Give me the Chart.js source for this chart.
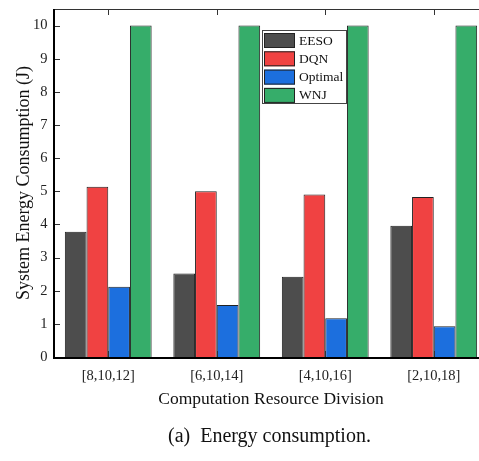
<!DOCTYPE html>
<html>
<head>
<meta charset="utf-8">
<script src="https://cdn.jsdelivr.net/npm/chart.js@4/dist/chart.umd.min.js"></script>
<style>
  html, body { margin: 0; padding: 0; background: #fff; overflow: hidden; width: 479px; height: 461px; }
  #wrap { position: relative; width: 488px; height: 461px; }
  #caption { position: absolute; left: 168px; top: 424px; font-family: "Liberation Serif", serif; font-size: 20px; color: #111; white-space: pre; }
</style>
</head>
<body>
<div id="wrap">
  <canvas id="c" width="488" height="461"></canvas>
  <div id="caption">(a)  Energy consumption.</div>
</div>
<script>
// valores
var categories = ["[8,10,12]", "[6,10,14]", "[4,10,16]", "[2,10,18]"];
var seriesNames = ["EESO", "DQN", "Optimal", "WNJ"];
var eeso = [3.78, 2.52, 2.42, 3.96];
var dqn = [5.14, 5.00, 4.90, 4.83];
var optimal = [2.12, 1.57, 1.17, 0.93];
var wnj = [10, 10, 10, 10];
var yTicks = [0, 1, 2, 3, 4, 5, 6, 7, 8, 9, 10];

var colors = ["#4d4d4d", "#f04242", "#1c6fde", "#36ad6a"];
var serif = "'Liberation Serif', 'Times New Roman', serif";

// ---------- marco y ticks hacia dentro ----------
var framePlugin = {
  id: "frame",
  afterDatasetsDraw: function (chart) {
    var ctx = chart.ctx, a = chart.chartArea;
    var xs = chart.scales.x, ys = chart.scales.y;
    ctx.save();
    ctx.strokeStyle = "#333";
    ctx.lineWidth = 1;
    ctx.beginPath();
    ctx.moveTo(a.left, a.top + 0.5); ctx.lineTo(a.right, a.top + 0.5);
    ctx.moveTo(a.right - 0.5, a.top); ctx.lineTo(a.right - 0.5, a.bottom);
    yTicks.forEach(function (v) {
      var py = Math.round(ys.getPixelForValue(v)) + 0.5;
      ctx.moveTo(a.left, py); ctx.lineTo(a.left + 6, py);
      ctx.moveTo(a.right, py); ctx.lineTo(a.right - 6, py);
    });
    categories.forEach(function (c, i) {
      var px = Math.round(xs.getPixelForValue(i)) + 0.5;
      ctx.moveTo(px, a.top); ctx.lineTo(px, a.top + 6);
      ctx.moveTo(px, a.bottom); ctx.lineTo(px, a.bottom - 6);
    });
    ctx.stroke();
    ctx.strokeStyle = "#000";
    ctx.lineWidth = 2;
    ctx.beginPath();
    ctx.moveTo(a.left, a.top); ctx.lineTo(a.left, a.bottom + 1);
    ctx.lineTo(a.right, a.bottom + 1);
    ctx.stroke();
    ctx.restore();
  }
};

// ---------- leyenda dentro del área ----------
var legendPlugin = {
  id: "innerLegend",
  afterDraw: function (chart) {
    var ctx = chart.ctx;
    var bx = 262, by = 30, bw = 84, bh = 73;
    ctx.save();
    ctx.fillStyle = "#fff";
    ctx.fillRect(bx, by, bw, bh);
    ctx.strokeStyle = "#444";
    ctx.lineWidth = 1;
    ctx.strokeRect(bx + 0.5, by + 0.5, bw, bh);
    ctx.font = "13.5px " + serif;
    ctx.textBaseline = "middle";
    chart.data.datasets.forEach(function (ds, i) {
      var y = by + 3 + i * 18.3;
      ctx.fillStyle = ds.backgroundColor;
      ctx.fillRect(bx + 2, y, 31, 15);
      ctx.strokeStyle = "#222";
      ctx.strokeRect(bx + 2.5, y + 0.5, 30, 14);
      ctx.fillStyle = "#111";
      ctx.fillText(ds.label, bx + 37, y + 8);
    });
    ctx.restore();
  }
};

var series = [eeso, dqn, optimal, wnj];
var datasets = series.map(function (vals, i) {
  return {
    label: seriesNames[i],
    data: vals,
    backgroundColor: colors[i],
    borderColor: "#222",
    borderWidth: 1,
    categoryPercentage: 0.8,
    barPercentage: 1.0
  };
});

function noPad(s) { s.paddingTop = 0; s.paddingBottom = 0; s.paddingLeft = 0; s.paddingRight = 0; }

new Chart(document.getElementById("c"), {
  type: "bar",
  data: { labels: categories, datasets: datasets },
  options: {
    responsive: false,
    animation: false,
    devicePixelRatio: 1,
    layout: { padding: { left: 0, right: 0, top: 9, bottom: 48 } },
    plugins: { legend: { display: false }, tooltip: { enabled: false } },
    scales: {
      x: {
        grid: { display: false, drawTicks: false },
        border: { display: false },
        ticks: { color: "#222", padding: 10, font: { family: serif, size: 14.5 } },
        title: { display: true, text: "Computation Resource Division", color: "#111",
                 font: { family: serif, size: 17.5 }, padding: { top: 0, bottom: 3 } },
        afterFit: function (s) { s.height = 56; noPad(s); }
      },
      y: {
        min: 0, max: 10.5,
        grid: { display: false, drawTicks: false },
        border: { display: false },
        afterBuildTicks: function (s) { s.ticks = yTicks.map(function (v) { return { value: v }; }); },
        ticks: { color: "#222", padding: 6.5, font: { family: serif, size: 14.5 } },
        title: { display: true, text: "System Energy Consumption (J)", color: "#111",
                 font: { family: serif, size: 18 }, padding: { top: 13, bottom: 0 } },
        afterFit: function (s) { s.width = 54; noPad(s); }
      }
    }
  },
  plugins: [framePlugin, legendPlugin]
});
</script>
</body>
</html>
